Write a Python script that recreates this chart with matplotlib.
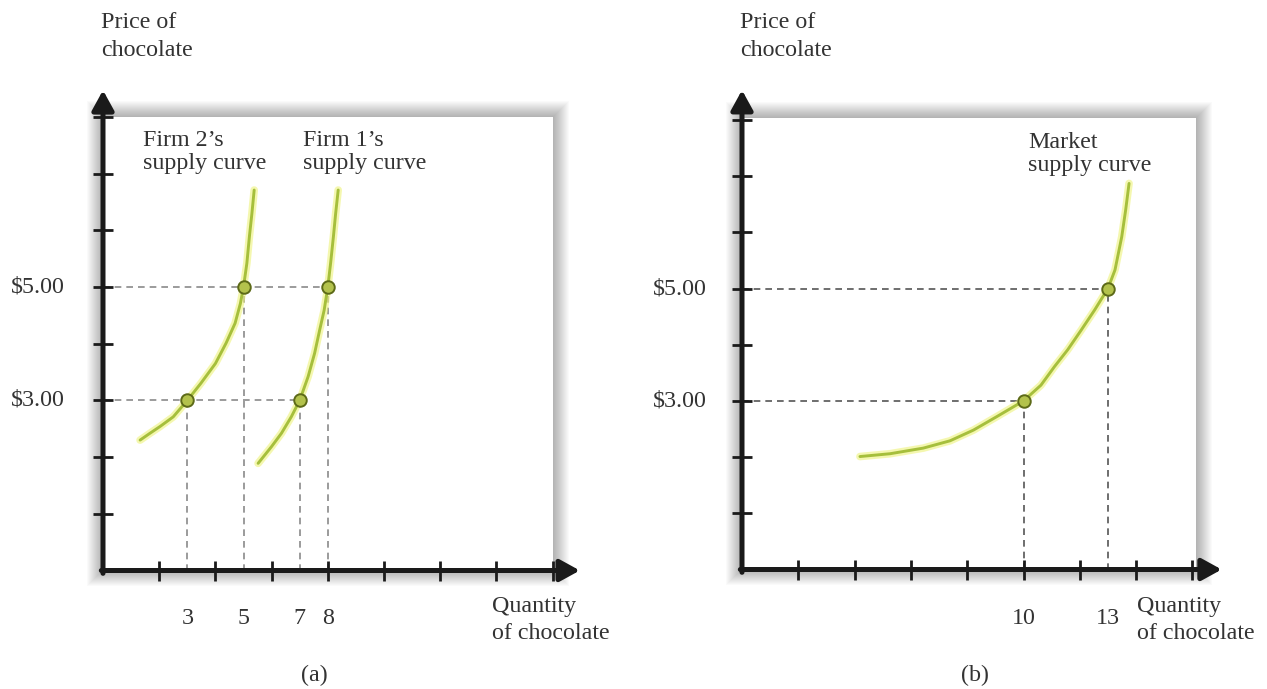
import numpy as np
import matplotlib
matplotlib.use("Agg")
import matplotlib.pyplot as plt
from matplotlib.patches import Rectangle

# ---------------- data ----------------
firm2_q = [1.32, 1.67, 2.03, 2.50, 3.00, 3.48, 4.00, 4.38, 4.70, 4.89, 5.00, 5.12, 5.21, 5.30, 5.38]
firm2_p = [2.30, 2.42, 2.54, 2.71, 3.00, 3.30, 3.65, 4.01, 4.36, 4.71, 5.00, 5.42, 5.89, 6.30, 6.71]

firm1_q = [5.52, 5.99, 6.35, 6.70, 7.00, 7.30, 7.53, 7.71, 7.87, 8.00, 8.10, 8.20, 8.28, 8.37]
firm1_p = [1.89, 2.18, 2.42, 2.71, 3.00, 3.42, 3.83, 4.24, 4.59, 5.00, 5.42, 5.89, 6.30, 6.71]

market_q = [4.19, 5.26, 6.44, 7.39, 8.22, 9.05, 10.00, 10.62, 11.10, 11.57, 12.05, 12.53, 13.00, 13.25, 13.49, 13.63, 13.75]
market_p = [2.01, 2.06, 2.16, 2.29, 2.48, 2.72, 3.00, 3.28, 3.61, 3.91, 4.26, 4.62, 5.00, 5.33, 5.92, 6.40, 6.87]

left_pts_q = [3, 5, 7, 8]
left_pts_p = [3, 5, 3, 5]
right_pts_q = [10, 13]
right_pts_p = [3, 5]

price_ticks = [1, 2, 3, 4, 5, 6, 7, 8]
qty_ticks = [2, 4, 6, 8, 10, 12, 14, 16]
price_labels = [3, 5]
price_label_text = ["\\$3.00", "\\$5.00"]
left_qty_labels = [3, 5, 7, 8]
right_qty_labels = [10, 13]

# ---------------- styling ----------------
W, H = 1267, 689
FONT = "Liberation Serif"
TXT = "#333333"
FS = 17.3
CURVE = "#a6bf3c"
GLOW = "#eef37a"
MFACE = "#b3c24c"
MEDGE = "#5d6a18"

fig = plt.figure(figsize=(W / 100, H / 100), dpi=100)
fig.patch.set_facecolor("white")

bg = fig.add_axes([0, 0, 1, 1])
bg.set_xlim(0, W)
bg.set_ylim(H, 0)
bg.axis("off")


def shadow_box(x0, y0, x1, y1):
    n = 16
    for i in range(n, 0, -1):
        bg.add_patch(Rectangle((x0 - i, y0 - i), x1 - x0 + 2 * i, y1 - y0 + 2 * i,
                               fc="black", ec="none", alpha=0.02, zorder=1))
    bg.add_patch(Rectangle((x0, y0), x1 - x0, y1 - y0, fc="white", ec="none", zorder=2))


def panel_axes(x0, y0, sx, sy):
    ax = fig.add_axes([0, 0, 1, 1])
    ax.set_xlim(-x0 / sx, (W - x0) / sx)
    ax.set_ylim((y0 - H) / sy, y0 / sy)
    ax.axis("off")
    ax.patch.set_alpha(0)
    return ax


def draw_axes(ax, xtip, ytip):
    kw = dict(arrowstyle="-|>,head_length=0.6,head_width=0.33", lw=3.6,
              color="#1a1a1a", mutation_scale=20, shrinkA=0, shrinkB=0)
    ax.annotate("", xy=(0, ytip), xytext=(0, -0.05), arrowprops=kw, zorder=6)
    ax.annotate("", xy=(xtip, 0), xytext=(-0.06, 0), arrowprops=kw, zorder=6)
    ax.plot(np.zeros(len(price_ticks)), price_ticks, ls="none", marker="_",
            ms=14, mew=2.0, color="#1a1a1a", zorder=7)
    ax.plot(qty_ticks, np.zeros(len(qty_ticks)), ls="none", marker="|",
            ms=14, mew=2.0, color="#1a1a1a", zorder=7)


def draw_curve(ax, q, p):
    ax.plot(q, p, color=GLOW, lw=5.5, alpha=0.6, solid_capstyle="round",
            solid_joinstyle="round", zorder=3)
    ax.plot(q, p, color=CURVE, lw=2.1, solid_capstyle="round",
            solid_joinstyle="round", zorder=4)


def draw_guides(ax, qs, ps, color):
    for q, p in zip(qs, ps):
        ax.plot([q, q], [0, p], color=color, lw=1.2, ls=(0, (4, 3)), zorder=2.5)
    for p in sorted(set(ps)):
        qmax = max(q for q, pp in zip(qs, ps) if pp == p)
        ax.plot([0, qmax], [p, p], color=color, lw=1.2, ls=(0, (4, 3)), zorder=2.5)


def txt(ax, x, y, s, **kw):
    ax.text(x, y, s, fontfamily=FONT, fontsize=FS, color=TXT, **kw)


# ---------------- panel (a) ----------------
shadow_box(103, 117, 553, 570)
axL = panel_axes(103, 570.5, 28.1, 56.7)
draw_guides(axL, left_pts_q, left_pts_p, "#8a8a8a")
draw_curve(axL, firm2_q, firm2_p)
draw_curve(axL, firm1_q, firm1_p)
axL.plot(left_pts_q, left_pts_p, ls="none", marker="o", ms=9, mfc=MFACE, mec=MEDGE, mew=1.4, zorder=8)
draw_axes(axL, 16.97, 8.47)
for v, s in zip(price_labels, price_label_text):
    txt(axL, -1.35, v, s, ha="right", va="center")
for v in left_qty_labels:
    txt(axL, v, -0.85, str(v), ha="center", va="center")

txt(bg, 101, 12, "Price of\nchocolate", ha="left", va="top", linespacing=1.45)
txt(bg, 143, 130, "Firm 2\u2019s\nsupply curve", ha="left", va="top", linespacing=1.1)
txt(bg, 303, 130, "Firm 1\u2019s\nsupply curve", ha="left", va="top", linespacing=1.1)
txt(bg, 492, 596, "Quantity\nof chocolate", ha="left", va="top", linespacing=1.35)
txt(bg, 314, 675, "(a)", ha="center", va="center")

# ---------------- panel (b) ----------------
shadow_box(742, 118, 1196, 569)
axR = panel_axes(742, 569.5, 28.15, 56.2)
draw_guides(axR, right_pts_q, right_pts_p, "#555555")
draw_curve(axR, market_q, market_p)
axR.plot(right_pts_q, right_pts_p, ls="none", marker="o", ms=9, mfc=MFACE, mec=MEDGE, mew=1.4, zorder=8)
draw_axes(axR, 17.04, 8.53)
for v, s in zip(price_labels, price_label_text):
    txt(axR, -1.24, v, s, ha="right", va="center")
for v in right_qty_labels:
    txt(axR, v, -0.87, str(v), ha="center", va="center")

txt(bg, 740, 12, "Price of\nchocolate", ha="left", va="top", linespacing=1.45)
txt(bg, 1028, 132, "Market\nsupply curve", ha="left", va="top", linespacing=1.1)
txt(bg, 1137, 596, "Quantity\nof chocolate", ha="left", va="top", linespacing=1.35)
txt(bg, 975, 675, "(b)", ha="center", va="center")

fig.savefig("out.png", dpi=100, facecolor="white")
